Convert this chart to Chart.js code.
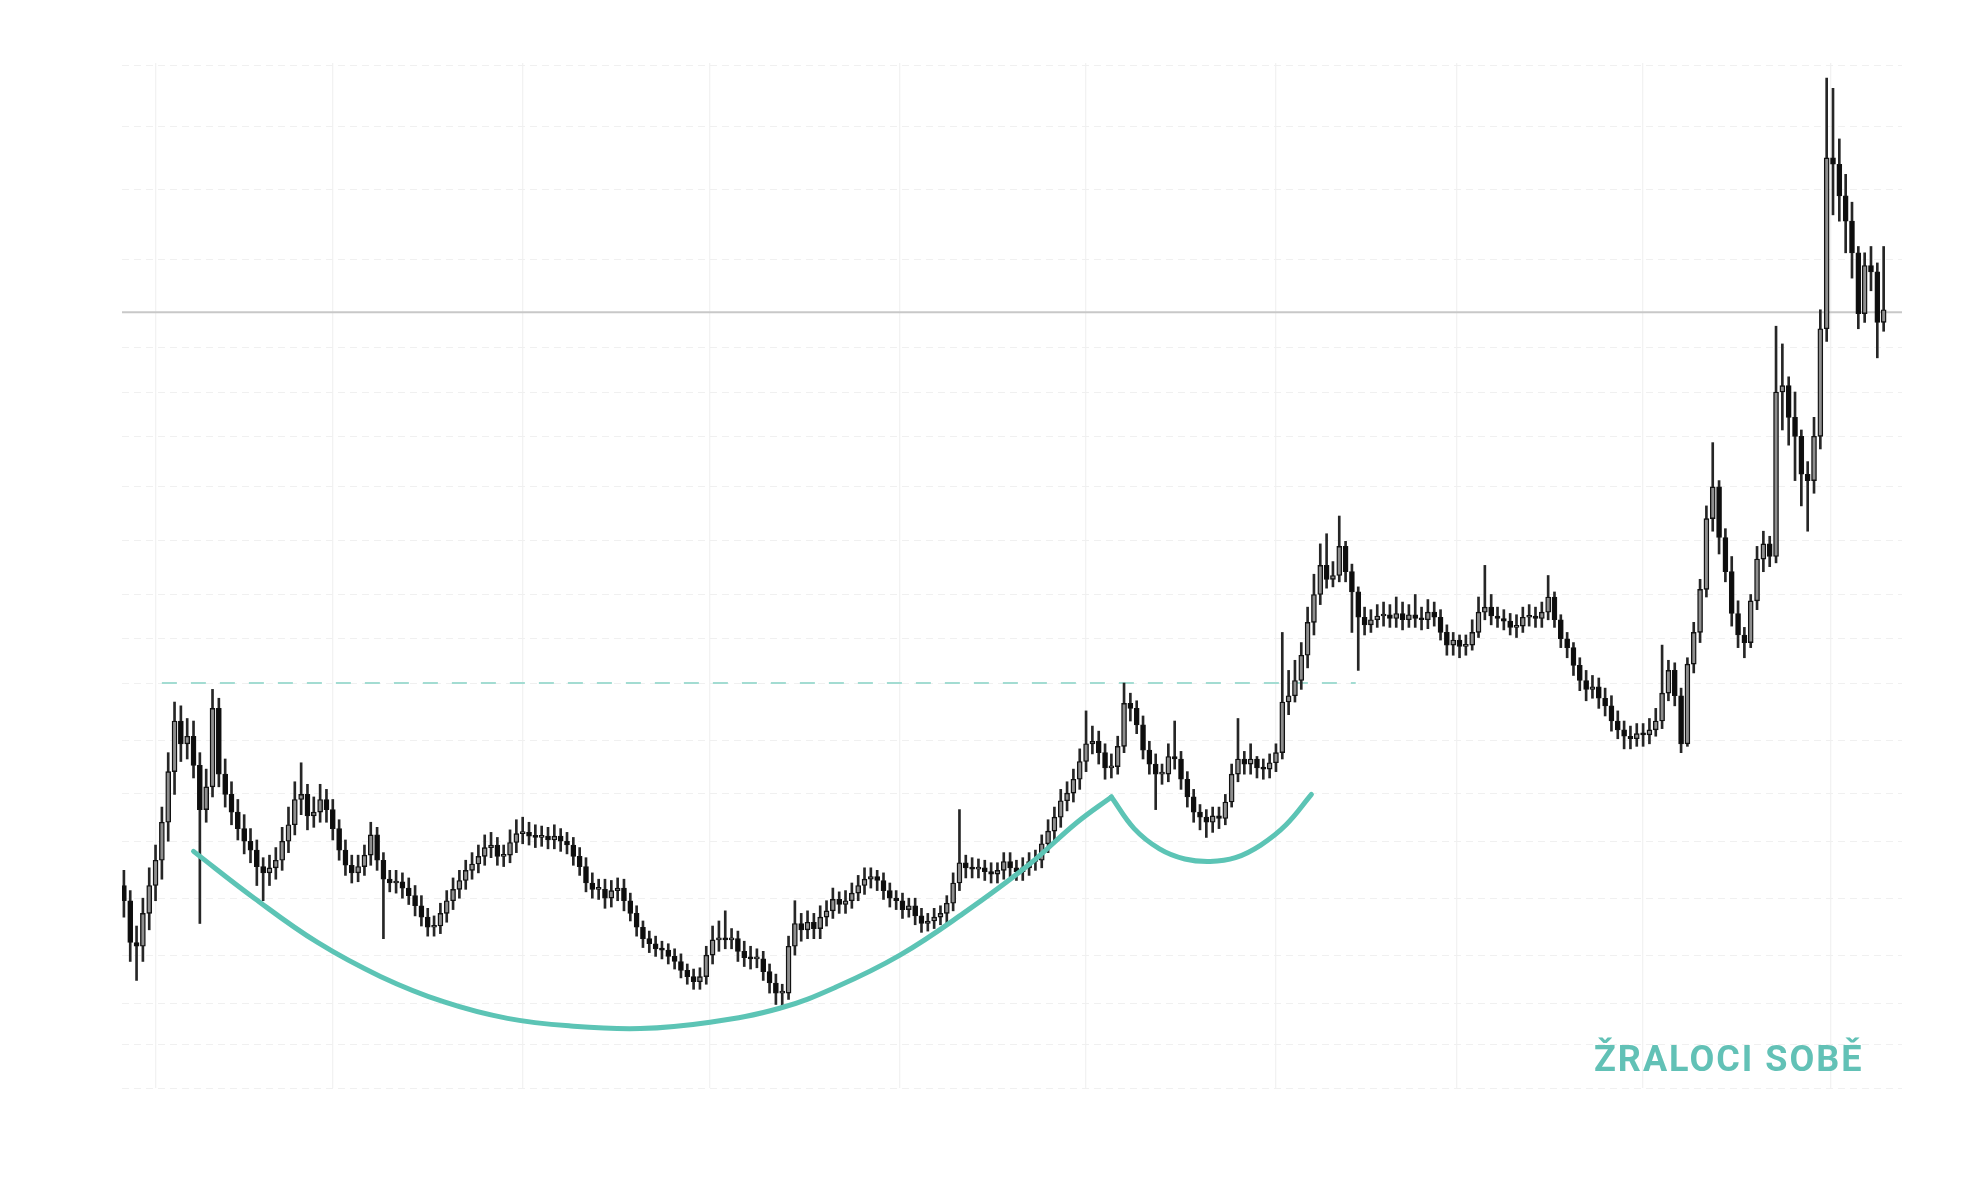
<!DOCTYPE html>
<html lang="cs">
<head>
<meta charset="utf-8">
<title>Šálek s uchem</title>
<script src="https://cdn.jsdelivr.net/npm/chart.js@4.4.1/dist/chart.umd.min.js"></script>
<style>
html,body{margin:0;padding:0;background:#fff;}
#wrap{position:relative;width:1984px;height:1194px;}
#brand{position:absolute;left:1594px;top:1041px;font:700 36px Roboto,'DejaVu Sans',sans-serif;line-height:36px;letter-spacing:2px;color:#62c1b6;white-space:nowrap;}
</style>
</head>
<body>
<div id="wrap">
  <canvas id="chart" width="1984" height="1194"></canvas>
  <div id="brand">ŽRALOCI SOBĚ</div>
</div>
<script>
// ── data (cena v libovolných jednotkách, jedna svíčka = jedna perioda) ──
const firstOpen=200;
const closes=[
  188,155,152,178,200,220,250,290,330,312, 318,295,260,278,340,288,272,258,245,235,
  228,215,210,214,220,235,248,268,272,255, 258,268,260,245,228,216,210,215,224,240,
  220,205,202,203,198,192,184,175,167,168, 178,188,197,204,212,217,223,230,232,223,
  224,234,241,242,239,238,239,236,239,235, 232,223,215,202,197,197,190,196,198,188,
  178,167,158,154,150,149,144,140,133,128, 124,128,145,157,158,157,158,148,143,142,
  142,132,123,115,115,152,170,165,171,166, 175,180,189,185,188,194,200,205,207,204,
  196,190,188,181,184,176,170,172,175,178, 186,202,218,214,213,214,211,209,212,219,
  214,211,214,219,220,233,243,254,267,273, 284,298,312,314,305,293,294,310,344,340,
  327,307,296,288,288,302,300,284,270,258, 254,250,255,253,266,288,300,296,300,293,
  292,297,305,345,350,362,382,408,430,453, 442,445,468,448,432,412,406,410,413,414,
  411,415,410,414,411,410,416,412,400,390, 394,389,390,400,416,420,413,411,409,404,
  405,412,413,411,416,428,410,395,388,374, 362,355,357,348,342,330,323,318,316,320,
  319,323,330,352,370,350,312,375,400,434, 490,515,475,448,415,398,392,425,458,470,
  460,590,595,570,555,525,520,555,640,775, 770,745,725,700,652,690,685,645,655
];
const highs=[
  212,196,168,190,214,232,262,305,345,342, 332,330,305,292,355,348,300,282,268,256,
  245,236,222,224,230,246,262,282,297,280, 270,280,276,268,252,236,224,224,232,250,
  246,226,212,212,210,206,200,192,182,176, 186,196,206,212,220,226,232,240,242,238,
  232,244,252,254,250,248,247,246,248,245, 242,238,230,222,210,205,205,204,206,205,
  194,184,172,164,160,156,154,150,146,138, 134,135,152,168,172,180,166,164,156,152,
  150,148,138,130,122,160,188,178,180,178, 184,188,198,195,196,202,208,214,214,212,
  210,202,196,194,190,190,182,178,182,184, 192,210,260,224,222,221,220,218,218,226,
  226,220,222,226,228,240,252,262,276,282, 292,308,338,326,322,312,304,318,360,352,
  346,334,314,304,296,312,330,306,290,276, 264,260,262,262,272,296,332,306,312,302,
  300,304,312,400,370,378,392,420,446,470, 478,456,492,472,454,436,420,418,422,424,
  422,428,424,422,430,420,426,424,418,406, 400,398,398,410,428,453,430,420,418,415,
  414,420,422,420,424,445,432,414,400,392, 380,370,366,364,356,350,338,330,326,328,
  328,332,340,390,378,376,356,380,408,442, 500,550,520,482,460,425,404,430,468,480,
  476,642,628,602,590,560,535,570,655,838, 830,790,762,740,705,700,705,692,705
];
const lows=[
  175,140,125,140,165,188,205,235,272,298, 300,285,170,250,270,278,262,248,236,225,
  218,200,188,200,205,212,226,240,256,244, 246,250,250,236,220,208,202,203,208,216,
  212,158,195,194,190,185,176,168,160,160, 162,171,181,190,197,205,210,216,222,216,
  215,218,226,233,232,230,231,229,229,227, 225,216,208,195,190,189,182,183,188,180,
  172,160,151,147,144,142,138,134,127,122, 118,118,122,138,148,150,150,140,136,134,
  135,125,115,106,103,110,145,156,158,158, 158,168,174,178,178,182,188,193,198,196,
  189,183,181,174,175,169,163,164,166,169, 170,180,196,206,206,206,204,202,202,205,
  207,204,204,208,212,214,226,236,246,259, 266,276,290,304,296,284,285,288,305,330,
  320,300,288,260,280,282,292,276,262,250, 244,238,242,245,248,262,282,288,288,285,
  284,285,290,300,335,345,355,372,398,422, 435,436,440,440,400,370,398,400,404,405,
  404,404,402,404,404,402,403,405,394,382, 382,380,382,386,396,410,406,404,402,398,
  396,400,405,404,404,410,404,388,380,366, 354,346,348,340,334,322,316,308,308,310,
  310,312,318,324,346,342,305,310,368,392, 428,480,462,440,405,388,380,388,418,448,
  452,455,560,548,520,500,480,510,545,630, 730,725,700,680,640,645,670,617,638
];

// ── vyznačený šálek a ucho (odečtené body) ──
const cupX=[11,20.6,30.6,40.6,50.6,60.6,70.6,81.6,92.6,103.6,112.6,122.6,132.6,142.6,150.6,156];
const cupY=[227,190,155,128,108,95,89,87,92,103,120,145,178,215,250,270];
const handleX=[156,159.6,163.6,167.6,171.6,175.6,179.6,183.6,187.6];
const handleY=[270,245,229,221,219,222,232,248,272];

// ── úrovně ──
const neckline=360, necklineFrom=6, necklineTo=194.6;
const upperLevel=653;

// ── mřížka ──
const xGridAt=[5,33,63,92.6,122.6,152,182,210.6,240,269.6];
const yGridAt=[40,74,107,145,190,235,273,315,360,395,430,473,515,555,590,625,695,750,800,848];

const X_MIN=-0.3, X_MAX=280.9, Y_MIN=40, Y_MAX=850;
const TEAL='#5cc4b5';

const opens=closes.map((c,i)=>i===0?firstOpen:closes[i-1]);
const wickData=closes.map((c,i)=>({x:i,y:[lows[i],highs[i]]}));
const bodyData=closes.map((c,i)=>({x:i,y:[opens[i],c]}));
const bodyFill=closes.map((c,i)=>c>=opens[i]?'#8e8e8e':'#0d0d0d');

const ctx=document.getElementById('chart').getContext('2d');
new Chart(ctx,{
  type:'bar',
  data:{datasets:[
    {type:'line',label:'šálek',data:cupX.map((x,i)=>({x,y:cupY[i]})),
     borderColor:TEAL,borderWidth:5,pointRadius:0,tension:0.4,borderCapStyle:'round',order:0},
    {type:'line',label:'ucho',data:handleX.map((x,i)=>({x,y:handleY[i]})),
     borderColor:TEAL,borderWidth:5,pointRadius:0,tension:0.4,borderCapStyle:'round',order:0},
    {type:'line',label:'odpor',data:[{x:necklineFrom,y:neckline},{x:necklineTo,y:neckline}],
     borderColor:'#a3dcd2',borderWidth:2,borderDash:[15,14],pointRadius:0,order:5},
    {type:'line',label:'úroveň',data:[{x:X_MIN,y:upperLevel},{x:X_MAX,y:upperLevel}],
     borderColor:'#c8c8c8',borderWidth:2,pointRadius:0,order:6},
    {label:'knoty',data:wickData,backgroundColor:'#262626',barThickness:2,grouped:false,order:3},
    {label:'těla',data:bodyData,backgroundColor:bodyFill,borderColor:'#111',borderWidth:1.4,
     borderSkipped:false,barThickness:5,minBarLength:2,grouped:false,order:2}
  ]},
  options:{
    responsive:false,animation:false,devicePixelRatio:1,
    layout:{padding:{left:122,right:82,top:63,bottom:106}},
    plugins:{legend:{display:false},tooltip:{enabled:false}},
    scales:{
      x:{type:'linear',min:X_MIN,max:X_MAX,offset:false,
         grid:{color:'#f2f2f2',lineWidth:1.3,drawTicks:false,offset:false},
         border:{display:false},ticks:{display:false},
         afterBuildTicks:s=>{s.ticks=xGridAt.map(v=>({value:v}));}},
      y:{min:Y_MIN,max:Y_MAX,
         grid:{color:'#f0f0f0',lineWidth:1,drawTicks:false},
         border:{display:false,dash:[7,5]},ticks:{display:false},
         afterBuildTicks:s=>{s.ticks=yGridAt.map(v=>({value:v}));}}
    }
  }
});
</script>
</body>
</html>
